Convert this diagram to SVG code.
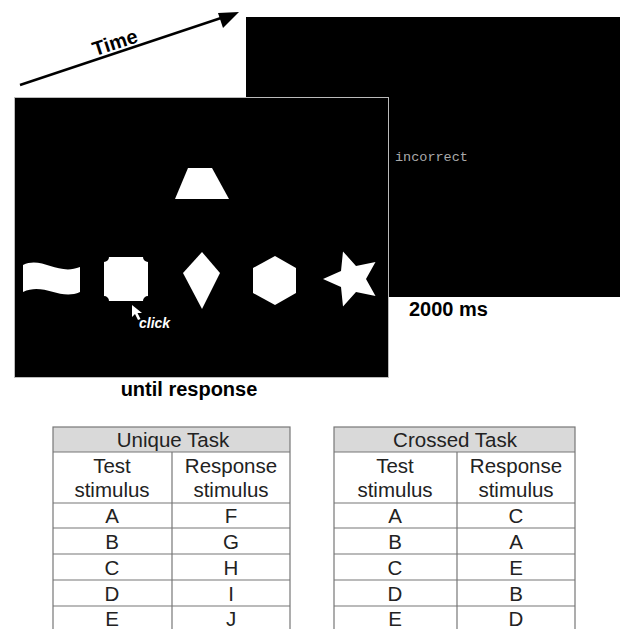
<svg xmlns="http://www.w3.org/2000/svg" width="621" height="629" viewBox="0 0 621 629">
<defs>
<style>
.lbl{font-family:"Liberation Sans",Arial,sans-serif;font-weight:bold;fill:#000;font-size:20px}
.cell{font-family:"Liberation Sans",Arial,sans-serif;font-size:20.5px;fill:#222;text-anchor:middle}
.grid{fill:none;stroke:#777;stroke-width:1.2}
.shape{fill:#fff}
</style>
</defs>
<rect width="621" height="629" fill="#fff"/>
<g id="time-arrow">
<line x1="20" y1="85" x2="230" y2="15" stroke="#000" stroke-width="2.5"/>
<path d="M239,12 L218,13 L223,28 Z" fill="#000"/>
<text class="lbl" x="117" y="49" font-size="18" text-anchor="middle" transform="rotate(-18 117 49)">Time</text>
</g>
<g id="feedback-screen">
<rect x="246" y="17" width="374" height="280" fill="#000"/>
<text x="395" y="161" font-family="'Liberation Mono','Courier New',monospace" font-size="13.5" fill="#aaa">incorrect</text>
<text class="lbl" x="409" y="316">2000 ms</text>
</g>
<g id="choice-screen">
<rect x="14.5" y="97.5" width="374" height="280" fill="#000" stroke="#bbb" stroke-width="1"/>
<path class="shape" d="M188,168 L212,168 L229,199 L175,199 Z"/>
<path class="shape" d="M23,265 C42,256 58,276 80,267 L80,292 C60,301 44,282 23,292 Z"/>
<path class="shape" d="M109,257 L143,257 A5,5 0 0 0 148,262 L148,296 A5,5 0 0 0 143,301 L109,301 A5,5 0 0 0 104,296 L104,262 A5,5 0 0 0 109,257 Z"/>
<path class="shape" d="M202,252 L220,273 L202,309 L183,273 Z"/>
<path class="shape" d="M275,256 L296,268 L296,293 L275,305 L253,293 L253,268 Z"/>
<path class="shape" d="M323,279 L341,271 L343,251.4 L356,266 L375.5,261.9 L366,279 L375.5,296.1 L356,292 L343,306.6 L341,287 Z"/>
<path d="M132,305 L132,317 L135,314 L138,320 L140.5,319 L137.5,313 L142,313 Z" fill="#fff"/>
<text x="139" y="328" font-family="'Liberation Sans',Arial,sans-serif" font-weight="bold" font-style="italic" font-size="14" fill="#fff">click</text>
<text class="lbl" x="189" y="396" text-anchor="middle">until response</text>
</g>
<g id="unique-table">
<rect x="53" y="427" width="237" height="25" fill="#d9d9d9"/>
<rect class="grid" x="53" y="427" width="237" height="210"/>
<line class="grid" x1="53" y1="452" x2="290" y2="452"/>
<line class="grid" x1="53" y1="503" x2="290" y2="503"/>
<line class="grid" x1="53" y1="528" x2="290" y2="528"/>
<line class="grid" x1="53" y1="554" x2="290" y2="554"/>
<line class="grid" x1="53" y1="580" x2="290" y2="580"/>
<line class="grid" x1="53" y1="606" x2="290" y2="606"/>
<line class="grid" x1="172" y1="452" x2="172" y2="637"/>
<text class="cell" x="173" y="447">Unique Task</text>
<text class="cell" x="112" y="473">Test</text>
<text class="cell" x="112" y="497">stimulus</text>
<text class="cell" x="231" y="473">Response</text>
<text class="cell" x="231" y="497">stimulus</text>
<text class="cell" x="112" y="523">A</text><text class="cell" x="231" y="523">F</text>
<text class="cell" x="112" y="549">B</text><text class="cell" x="231" y="549">G</text>
<text class="cell" x="112" y="575">C</text><text class="cell" x="231" y="575">H</text>
<text class="cell" x="112" y="601">D</text><text class="cell" x="231" y="601">I</text>
<text class="cell" x="112" y="626">E</text><text class="cell" x="231" y="626">J</text>
</g>
<g id="crossed-table">
<rect x="334" y="427" width="241" height="25" fill="#d9d9d9"/>
<rect class="grid" x="334" y="427" width="241" height="210"/>
<line class="grid" x1="334" y1="452" x2="575" y2="452"/>
<line class="grid" x1="334" y1="503" x2="575" y2="503"/>
<line class="grid" x1="334" y1="528" x2="575" y2="528"/>
<line class="grid" x1="334" y1="554" x2="575" y2="554"/>
<line class="grid" x1="334" y1="580" x2="575" y2="580"/>
<line class="grid" x1="334" y1="606" x2="575" y2="606"/>
<line class="grid" x1="457" y1="452" x2="457" y2="637"/>
<text class="cell" x="455" y="447">Crossed Task</text>
<text class="cell" x="395" y="473">Test</text>
<text class="cell" x="395" y="497">stimulus</text>
<text class="cell" x="516" y="473">Response</text>
<text class="cell" x="516" y="497">stimulus</text>
<text class="cell" x="395" y="523">A</text><text class="cell" x="516" y="523">C</text>
<text class="cell" x="395" y="549">B</text><text class="cell" x="516" y="549">A</text>
<text class="cell" x="395" y="575">C</text><text class="cell" x="516" y="575">E</text>
<text class="cell" x="395" y="601">D</text><text class="cell" x="516" y="601">B</text>
<text class="cell" x="395" y="626">E</text><text class="cell" x="516" y="626">D</text>
</g>
</svg>
